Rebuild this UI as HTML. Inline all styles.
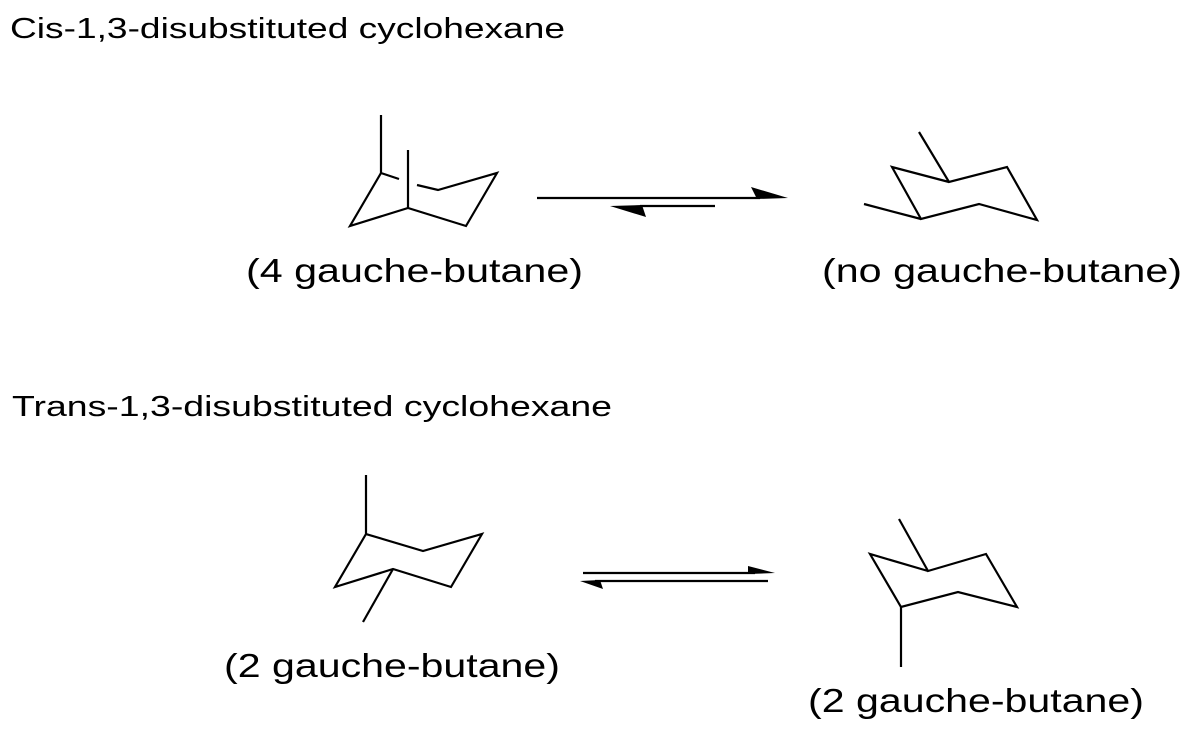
<!DOCTYPE html>
<html><head><style>body{margin:0;background:#fff}svg{display:block}</style></head>
<body>
<svg width="1192" height="732" viewBox="0 0 1192 732" xmlns="http://www.w3.org/2000/svg" font-family="Liberation Sans, Arial, sans-serif">
<g fill="none" stroke="#000" stroke-width="2.2" stroke-linejoin="miter">
<!-- cis left -->
<polyline points="381,115 381,173 399,179"/>
<polyline points="417,185 438,190 497,173 466,226 408,208 350,226 381,173"/>
<line x1="408" y1="150" x2="408" y2="208"/>
<!-- cis arrow -->
<line x1="537" y1="198" x2="760" y2="198"/>
<line x1="640" y1="206" x2="715" y2="206"/>
<!-- cis right -->
<polyline points="919,132 949,182 1007,167 1037,220 979,204 921,219 892,167 949,182"/>
<line x1="864" y1="204" x2="921" y2="219"/>
<!-- trans left -->
<polyline points="366,475 366,534 423,551 482,534 451,587 393,569 335,587 366,534"/>
<line x1="393" y1="569" x2="363" y2="622"/>
<!-- trans arrow -->
<line x1="583" y1="573" x2="755" y2="573"/>
<line x1="768" y1="581" x2="595" y2="581"/>
<!-- trans right -->
<polyline points="899,519 928,571 986,554 1017,607 958,592 901,607 870,554 928,571"/>
<line x1="901" y1="607" x2="901" y2="667"/>
</g>
<g fill="#000">
<polygon points="751,187 788,198 757,199"/>
<polygon points="610,206 646,217 642,205"/>
<polygon points="748,566 775,573 748,574"/>
<polygon points="580,581 603,589 600,580"/>
</g>
<g fill="#000">
<text x="10" y="38" font-size="29" textLength="555" lengthAdjust="spacingAndGlyphs">Cis-1,3-disubstituted cyclohexane</text>
<text x="246" y="282" font-size="33" textLength="337" lengthAdjust="spacingAndGlyphs">(4 gauche-butane)</text>
<text x="822" y="282" font-size="33" textLength="360" lengthAdjust="spacingAndGlyphs">(no gauche-butane)</text>
<text x="12" y="416" font-size="29" textLength="600" lengthAdjust="spacingAndGlyphs">Trans-1,3-disubstituted cyclohexane</text>
<text x="224" y="677" font-size="33" textLength="336" lengthAdjust="spacingAndGlyphs">(2 gauche-butane)</text>
<text x="808" y="712" font-size="33" textLength="336" lengthAdjust="spacingAndGlyphs">(2 gauche-butane)</text>
</g>
</svg>
</body></html>
